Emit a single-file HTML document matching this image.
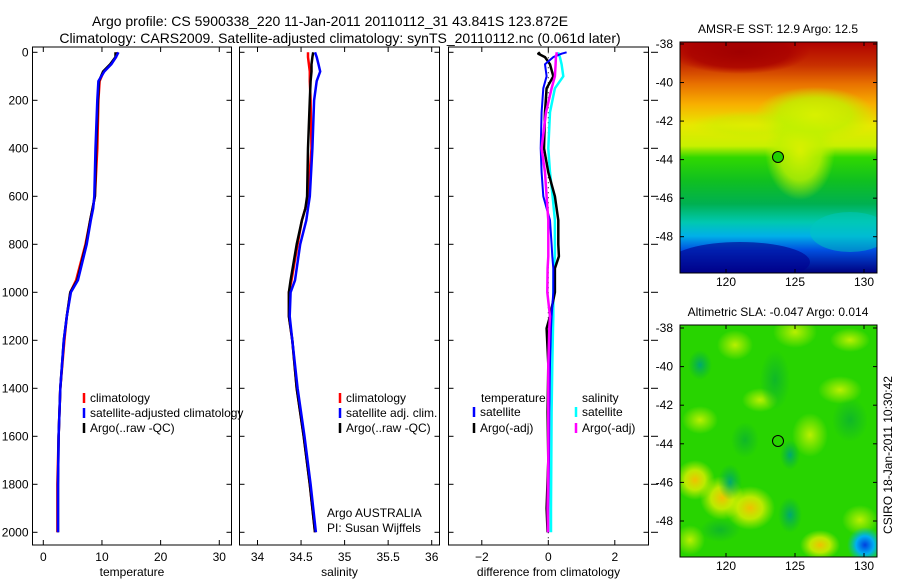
<!DOCTYPE html>
<html><head><meta charset="utf-8"><style>
html,body{margin:0;padding:0;background:#fff;}
svg{display:block;font-family:"Liberation Sans",sans-serif;}
</style></head><body>
<svg id="chart" width="900" height="580" viewBox="0 0 900 580">
<defs>
<linearGradient id="sstg" x1="0" y1="0" x2="0" y2="1">
<stop offset="0" stop-color="#b00000"/><stop offset="0.1" stop-color="#c83000"/>
<stop offset="0.18" stop-color="#e87000"/><stop offset="0.27" stop-color="#f8b000"/>
<stop offset="0.36" stop-color="#e8e800"/><stop offset="0.45" stop-color="#c8f000"/>
<stop offset="0.5" stop-color="#30d800"/><stop offset="0.6" stop-color="#10c020"/>
<stop offset="0.7" stop-color="#00b050"/><stop offset="0.78" stop-color="#00c8b0"/>
<stop offset="0.84" stop-color="#00b0e8"/><stop offset="0.9" stop-color="#0050e0"/>
<stop offset="1" stop-color="#000080"/></linearGradient>
<radialGradient id="tongue" cx="0.5" cy="0.5" r="0.5"><stop offset="0" stop-color="#d8f000"/><stop offset="0.6" stop-color="#c0f000" stop-opacity="0.8"/><stop offset="1" stop-color="#c0f000" stop-opacity="0"/></radialGradient>
<radialGradient id="redb" cx="0.5" cy="0.5" r="0.5"><stop offset="0" stop-color="#a00000"/><stop offset="0.7" stop-color="#a80000" stop-opacity="0.8"/><stop offset="1" stop-color="#b00000" stop-opacity="0"/></radialGradient>
<radialGradient id="yb" cx="0.5" cy="0.5" r="0.5"><stop offset="0" stop-color="#f0c000"/><stop offset="0.5" stop-color="#e0f000" stop-opacity="0.8"/><stop offset="1" stop-color="#c8f000" stop-opacity="0"/></radialGradient>
<radialGradient id="gb" cx="0.5" cy="0.5" r="0.5"><stop offset="0" stop-color="#b8f000"/><stop offset="1" stop-color="#b8f000" stop-opacity="0"/></radialGradient>
<radialGradient id="db" cx="0.5" cy="0.5" r="0.5"><stop offset="0" stop-color="#00a870"/><stop offset="1" stop-color="#00b040" stop-opacity="0"/></radialGradient>
<radialGradient id="mg" cx="0.5" cy="0.5" r="0.5"><stop offset="0" stop-color="#10b828"/><stop offset="1" stop-color="#10b828" stop-opacity="0"/></radialGradient>
<radialGradient id="bb" cx="0.5" cy="0.5" r="0.5"><stop offset="0" stop-color="#0040e0"/><stop offset="0.5" stop-color="#00b0f0"/><stop offset="1" stop-color="#00c0c0" stop-opacity="0"/></radialGradient>
<clipPath id="m1c"><rect x="680" y="42" width="197" height="231"/></clipPath>
<clipPath id="m2c"><rect x="680" y="325" width="197" height="232"/></clipPath>
</defs>
<text x="330" y="26" font-size="14" text-anchor="middle">Argo profile: CS 5900338_220 11-Jan-2011 20110112_31 43.841S 123.872E</text>
<text x="340" y="43" font-size="14" text-anchor="middle">Climatology: CARS2009. Satellite-adjusted climatology: synTS_20110112.nc (0.061d later)</text>

<g id="p1"></g>
<g id="p2"></g>
<g id="p3"></g>

<g>
<text x="778" y="33" font-size="12" text-anchor="middle">AMSR-E SST: 12.9 Argo: 12.5</text>
<g clip-path="url(#m1c)">
<rect x="680" y="42" width="197" height="231" fill="url(#sstg)"/>
<ellipse cx="740" cy="52" rx="70" ry="22" fill="url(#redb)"/>
<ellipse cx="800" cy="150" rx="35" ry="50" fill="url(#tongue)"/>
<ellipse cx="815" cy="115" rx="60" ry="28" fill="url(#tongue)"/>
<ellipse cx="750" cy="125" rx="60" ry="14" fill="url(#tongue)" opacity="0.5"/>
<ellipse cx="740" cy="262" rx="70" ry="20" fill="#000090" opacity="0.6"/>
<ellipse cx="850" cy="232" rx="40" ry="20" fill="#00c8c0" opacity="0.5"/>
</g>
<rect x="680" y="42" width="197" height="231" fill="none" stroke="#000"/>
<circle cx="778" cy="157" r="5.5" fill="#20d000" stroke="#000"/>
</g>
<g>
<text x="778" y="316" font-size="12" text-anchor="middle">Altimetric SLA: -0.047 Argo: 0.014</text>
<g clip-path="url(#m2c)">
<rect x="680" y="325" width="197" height="232" fill="#28d400"/>
<ellipse cx="722" cy="498" rx="22" ry="22" fill="url(#yb)"/>
<ellipse cx="750" cy="508" rx="25" ry="22" fill="url(#yb)"/>
<ellipse cx="820" cy="545" rx="20" ry="15" fill="url(#yb)"/>
<ellipse cx="695" cy="480" rx="20" ry="20" fill="url(#yb)"/>
<ellipse cx="795" cy="332" rx="22" ry="16" fill="url(#gb)"/>
<ellipse cx="810" cy="435" rx="18" ry="22" fill="url(#gb)"/>
<ellipse cx="735" cy="345" rx="18" ry="15" fill="url(#gb)"/>
<ellipse cx="690" cy="540" rx="15" ry="15" fill="url(#gb)"/>
<ellipse cx="860" cy="520" rx="18" ry="15" fill="url(#gb)"/>
<ellipse cx="840" cy="390" rx="22" ry="14" fill="url(#gb)"/>
<ellipse cx="700" cy="420" rx="18" ry="14" fill="url(#gb)"/>
<ellipse cx="850" cy="340" rx="20" ry="12" fill="url(#gb)"/>
<ellipse cx="760" cy="400" rx="18" ry="12" fill="url(#gb)"/>
<ellipse cx="700" cy="365" rx="12" ry="15" fill="url(#db)"/>
<ellipse cx="730" cy="482" rx="12" ry="18" fill="url(#db)"/>
<ellipse cx="790" cy="515" rx="12" ry="18" fill="url(#db)"/>
<ellipse cx="790" cy="455" rx="10" ry="15" fill="url(#db)"/>
<ellipse cx="775" cy="380" rx="15" ry="30" fill="url(#mg)"/>
<ellipse cx="850" cy="420" rx="18" ry="22" fill="url(#mg)"/>
<ellipse cx="745" cy="440" rx="14" ry="18" fill="url(#mg)"/>
<ellipse cx="720" cy="530" rx="20" ry="12" fill="url(#mg)"/>
<ellipse cx="865" cy="545" rx="18" ry="18" fill="url(#bb)"/>
</g>
<rect x="680" y="325" width="197" height="232" fill="none" stroke="#000"/>
<circle cx="778" cy="441" r="5.5" fill="none" stroke="#000"/>
<text transform="translate(892,455) rotate(-90)" font-size="12" text-anchor="middle">CSIRO 18-Jan-2011 10:30:42</text>
</g>
<g id="mapaxes"></g>
</svg>
<script>
// depth levels (m)
const depths = [0,20,50,80,120,200,400,600,650,700,800,950,1000,1100,1200,1400,1600,1800,2000];
// temperature series
const tempArgo = [12.3,12.3,11.4,10.2,9.5,9.3,9.0,8.8,8.4,8.0,7.3,5.8,4.6,4.0,3.5,2.9,2.6,2.5,2.5];
const tempSat  = [12.8,12.4,11.6,10.4,9.4,9.2,8.9,8.7,8.5,8.1,7.4,5.9,4.7,4.0,3.5,2.9,2.6,2.5,2.5];
const tempClim = [12.6,12.4,11.5,10.3,9.6,9.4,9.2,8.8,8.4,8.0,7.2,5.6,4.6,4.0,3.6,2.9,2.6,2.4,2.4];
// salinity series
const salArgo = [34.64,34.63,34.62,34.62,34.61,34.60,34.58,34.57,34.55,34.51,34.45,34.38,34.36,34.36,34.40,34.45,34.53,34.60,34.66];
const salSat  = [34.66,34.68,34.70,34.72,34.68,34.65,34.63,34.60,34.58,34.56,34.49,34.43,34.38,34.37,34.40,34.46,34.54,34.61,34.67];
const salClim = [34.58,34.58,34.59,34.60,34.60,34.61,34.62,34.58,34.55,34.51,34.46,34.39,34.36,34.36,34.40,34.45,34.53,34.60,34.66];
// differences from climatology
const diffDepths = [0,6,20,50,100,150,250,400,500,600,700,800,850,900,1000,1100,1150,1300,1500,1700,1900,2000];
const dTempArgo = [-0.25,-0.3,-0.1,0.05,0.15,-0.05,-0.1,-0.13,0,0.2,0.3,0.3,0.32,0.2,0.2,0.05,-0.05,0,-0.02,0,-0.05,-0.02];
const dTempSat  = [0.55,0.4,0.15,-0.1,-0.05,-0.15,-0.2,-0.23,-0.2,-0.15,0.05,0.1,0.12,0.15,0.15,0.1,0.08,0.05,0.03,0.02,0,0];
const dSalArgo  = [0.25,0.25,0.23,0.22,0.2,0.1,-0.07,-0.2,-0.1,-0.05,0,0,0,-0.02,-0.03,0.05,0.03,0,0,0,-0.02,-0.01];
const dSalSat   = [0.3,0.3,0.35,0.4,0.45,0.2,0.05,0,0.05,0.13,0.2,0.2,0.2,0.16,0.15,0.15,0.14,0.12,0.1,0.09,0.08,0.08];
// tick labels
const depthTicks = [0,200,400,600,800,1000,1200,1400,1600,1800,2000];
const tempTicks = [0,10,20,30];
const salTicks = [34,34.5,35,35.5,36];
const diffTicks = [-2,0,2];
const latTicks = [-38,-40,-42,-44,-46,-48];
const lonTicks = [120,125,130];

const NS='http://www.w3.org/2000/svg';
function mk(tag,attrs,parent,txt){const e=document.createElementNS(NS,tag);for(const k in attrs)e.setAttribute(k,attrs[k]);if(txt!==undefined)e.textContent=txt;parent.appendChild(e);return e;}
const yD = d => 52.3 + d*0.24;
const TOP=47, BOT=545;

function panel(g,x0,x1,xs,ticks,fmt,label,showY,name){
  const r=mk('rect',{x:x0,y:TOP,width:x1-x0,height:BOT-TOP,fill:'none',stroke:'#000'},g);
  
  
  ticks.forEach(t=>{const x=xs(t);
    mk('line',{x1:x,x2:x,y1:BOT,y2:BOT-5,stroke:'#000'},g);
    mk('line',{x1:x,x2:x,y1:TOP,y2:TOP+5,stroke:'#000'},g);
    const tx=mk('text',{x:x,y:BOT+16,'font-size':12,'text-anchor':'middle'},g,fmt(t));
    
    
  });
  depthTicks.forEach(d=>{const y=yD(d);
    mk('line',{x1:x0,x2:x0+5,y1:y,y2:y,stroke:'#000'},g);
    mk('line',{x1:x1,x2:x1-5,y1:y,y2:y,stroke:'#000'},g);
    if(showY){const tx=mk('text',{x:x0-4,y:y+4,'font-size':12,'text-anchor':'end'},g,String(d));
      
      }
  });
  const xl=mk('text',{x:(x0+x1)/2,y:BOT+31,'font-size':12,'text-anchor':'middle'},g,label);
  
  
}
function line(g,ds,vals,xs,color,w,name){
  const pts=ds.map((d,i)=>xs(vals[i]).toFixed(1)+','+yD(d).toFixed(1)).join(' ');
  const p=mk('polyline',{points:pts,fill:'none',stroke:color,'stroke-width':w,'stroke-linejoin':'round'},g);
  
  
}
function legend(g,x,y,color,txt,name){
  mk('line',{x1:x,x2:x,y1:y-9,y2:y+1,stroke:color,'stroke-width':2.5},g);
  const t=mk('text',{x:x+6,y:y,'font-size':12},g,txt);
  
  
}

// panel 1
const g1=document.getElementById('p1');
const xT = t => 43.3 + t*5.866;
panel(g1,32.5,231.5,xT,tempTicks,String,'temperature',true,'temperature');
line(g1,depths,tempClim,xT,'#ff0000',2.5,'temp-climatology-line');
line(g1,depths,tempArgo,xT,'#000',2.5,'temp-argo-line');
line(g1,depths,tempSat,xT,'#0000ff',2.5,'temp-satellite-line');
legend(g1,84,402,'#ff0000','climatology','legend-climatology');
legend(g1,84,417,'#0000ff','satellite-adjusted climatology','legend-satellite-adjusted');
legend(g1,84,432,'#000','Argo(..raw -QC)','legend-argo');

// panel 2
const g2=document.getElementById('p2');
const xS = s => 257.5 + (s-34)*87.1;
panel(g2,239.5,439.5,xS,salTicks,String,'salinity',false,'salinity');
line(g2,depths,salClim,xS,'#ff0000',2.5,'sal-climatology-line');
line(g2,depths,salArgo,xS,'#000',2.5,'sal-argo-line');
line(g2,depths,salSat,xS,'#0000ff',2.5,'sal-satellite-line');
legend(g2,340,402,'#ff0000','climatology','legend-sal-climatology');
legend(g2,340,417,'#0000ff','satellite adj. clim.','legend-sal-satellite');
legend(g2,340,432,'#000','Argo(..raw -QC)','legend-sal-argo');
let t=mk('text',{x:327,y:517,'font-size':12},g2,'Argo AUSTRALIA');


t=mk('text',{x:327,y:532,'font-size':12},g2,'PI: Susan Wijffels');



// panel 3
const g3=document.getElementById('p3');
const xD = v => 548.3 + v*33.25;
panel(g3,448.5,648.5,xD,diffTicks,v=>v<0?'\u2212'+Math.abs(v):String(v),'difference from climatology',false,'difference');
mk('line',{x1:xD(0),x2:xD(0),y1:yD(0),y2:BOT-4,stroke:'#000','stroke-dasharray':'1,4'},g3);
line(g3,diffDepths,dSalSat,xD,'#00ffff',2.5,'diff-salinity-satellite-line');
line(g3,diffDepths,dTempArgo,xD,'#000',2.5,'diff-temperature-argo-line');
line(g3,diffDepths,dTempSat,xD,'#0000ff',2,'diff-temperature-satellite-line');
line(g3,diffDepths,dSalArgo,xD,'#ff00ff',2.5,'diff-salinity-argo-line');
depthTicks.forEach(d=>mk('line',{x1:651,x2:658,y1:yD(d),y2:yD(d),stroke:'#000'},g3));
t=mk('text',{x:481,y:402,'font-size':12},g3,'temperature');


t=mk('text',{x:582,y:402,'font-size':12},g3,'salinity');


legend(g3,474,416,'#0000ff','satellite','legend-diff-temp-satellite');
legend(g3,474,432,'#000','Argo(-adj)','legend-diff-temp-argo');
legend(g3,576,416,'#00ffff','satellite','legend-diff-sal-satellite');
legend(g3,576,432,'#ff00ff','Argo(-adj)','legend-diff-sal-argo');

// map axes
const ga=document.getElementById('mapaxes');
const lonX = l => 726 + (l-120)*13.8;
[[44,19.27,273,42,283],[328,19.3,557,325,567]].forEach(([y0,s,bot,top,ly],mi)=>{
  latTicks.forEach(la=>{const y=y0+(-38-la)*s;
    mk('line',{x1:680,x2:684,y1:y,y2:y,stroke:'#000'},ga);
    mk('line',{x1:877,x2:873,y1:y,y2:y,stroke:'#000'},ga);
    const tx=mk('text',{x:673,y:y+4,'font-size':12,'text-anchor':'end'},ga,'-'+Math.abs(la));
    
    
  });
  lonTicks.forEach(l=>{const x=lonX(l);
    mk('line',{x1:x,x2:x,y1:bot,y2:bot-4,stroke:'#000'},ga);
    mk('line',{x1:x,x2:x,y1:top,y2:top+4,stroke:'#000'},ga);
    const tx=mk('text',{x:x,y:ly+3,'font-size':12,'text-anchor':'middle'},ga,String(l));
    
    
  });
});
</script>
</body></html>
